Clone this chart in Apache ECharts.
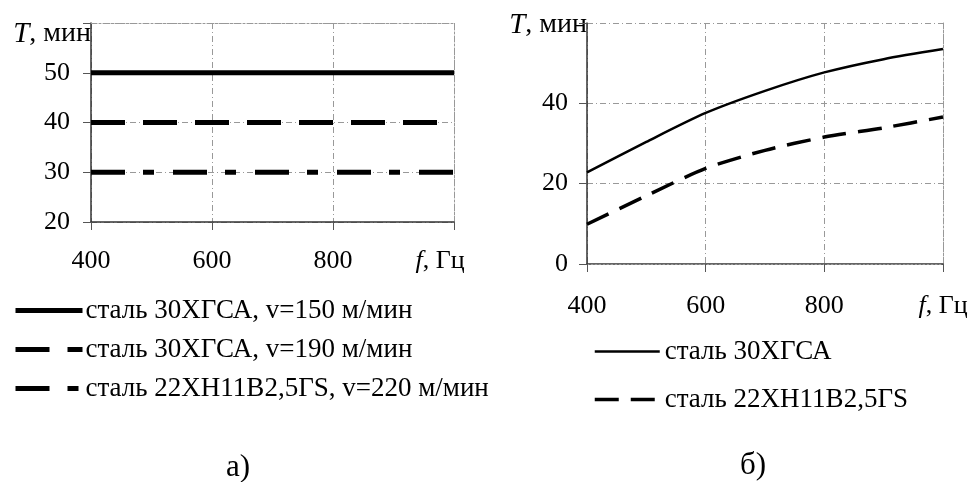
<!DOCTYPE html>
<html>
<head>
<meta charset="utf-8">
<script src="https://cdn.jsdelivr.net/npm/echarts@6/dist/echarts.min.js"></script>
<style>
html,body{margin:0;padding:0;background:#fff;}
#chart{width:975px;height:482px;}
</style>
</head>
<body>
<div id="chart"></div>
<script>
// ---- data (a) ----
var freqA = [400, 600, 800, 1000];
var steel30_v150 = [50, 50, 50, 50];
var steel30_v190 = [40, 40, 40, 40];
var steel22_v220 = [30, 30, 30, 30];
var namesA = ['сталь 30ХГСА, v=150 м/мин', 'сталь 30ХГСА, v=190 м/мин', 'сталь 22ХН11В2,5ГS, v=220 м/мин'];
var yTicksA = [20, 30, 40, 50];

// ---- data (б) ----
var freqB = [400, 500, 600, 700, 800, 900, 1000];
var steel30 = [22.8, 30.4, 37.6, 43.1, 47.7, 51.0, 53.5];
var steel22 = [9.9, 17.0, 23.8, 28.3, 31.6, 33.9, 36.6];
var namesB = ['сталь 30ХГСА', 'сталь 22ХН11В2,5ГS'];
var yTicksB = [0, 20, 40];

var xTicks = [400, 600, 800];
var FONT = 'Liberation Serif';

function pairs(xs, ys) { return xs.map(function (x, i) { return [x, ys[i]]; }); }

var richF = { i: { fontStyle: 'italic', fontFamily: FONT, fontSize: 26, color: '#000' } };
var richN = { i: { fontStyle: 'italic', fontFamily: FONT, fontSize: 29, color: '#000' } };

function xLabelFmt(v) {
  if (xTicks.indexOf(v) >= 0) return String(v);
  if (v === 1000) return '{i|f}, Гц';
  return '';
}

var gridLine = { show: true, lineStyle: { color: '#999', width: 1, type: [6, 3, 1, 3] } };
var borderLine = { show: true, lineStyle: { color: '#999', width: 1, type: [2, 2] } };

var option = {
  backgroundColor: '#fff',
  animation: false,
  textStyle: { fontFamily: FONT, color: '#000' },
  title: [
    { text: 'а)', left: 221, top: 447, textStyle: { fontFamily: FONT, fontSize: 31, fontWeight: 'normal', color: '#000' } },
    { text: 'б)', left: 735, top: 445, textStyle: { fontFamily: FONT, fontSize: 31, fontWeight: 'normal', color: '#000' } }
  ],
  grid: [
    { left: 91, right: 521, top: 23, bottom: 260 },
    { left: 587, right: 32, top: 23, bottom: 218 }
  ],
  xAxis: [
    {
      gridIndex: 0, type: 'value', min: 400, max: 1000, interval: 200,
      axisLine: { show: true, lineStyle: { color: '#333', width: 1.5 } },
      axisTick: { show: true, length: 8, lineStyle: { color: '#555' } },
      splitLine: gridLine,
      axisLabel: {
        margin: 26, fontSize: 26, color: '#000', fontFamily: FONT,
        formatter: function (v) { return v === 1000 ? '{i|f}, Гц{p|}' : xLabelFmt(v); },
        rich: { i: richF.i, p: { width: 28 } }
      }
    },
    {
      gridIndex: 0, type: 'value', min: 400, max: 1000, position: 'top',
      axisLine: borderLine, axisTick: { show: false }, axisLabel: { show: false }, splitLine: { show: false }
    },
    {
      gridIndex: 1, type: 'value', min: 400, max: 1000, interval: 200,
      axisLine: { show: true, lineStyle: { color: '#333', width: 1.5 } },
      axisTick: { show: true, length: 8, lineStyle: { color: '#555' } },
      splitLine: gridLine,
      axisLabel: {
        margin: 29, fontSize: 26, color: '#000', fontFamily: FONT,
        formatter: xLabelFmt, rich: richF
      }
    },
    {
      gridIndex: 1, type: 'value', min: 400, max: 1000, position: 'top',
      axisLine: borderLine, axisTick: { show: false }, axisLabel: { show: false }, splitLine: { show: false }
    }
  ],
  yAxis: [
    {
      gridIndex: 0, type: 'value', min: 20, max: 60, interval: 10,
      name: '{i|T}, мин', nameLocation: 'end', nameGap: -11,
      nameTextStyle: { fontFamily: FONT, fontSize: 28, color: '#000', align: 'right', verticalAlign: 'middle', rich: richN },
      axisLine: { show: true, lineStyle: { color: '#333', width: 1.5 } },
      axisTick: { show: true, length: 8, lineStyle: { color: '#555' } },
      splitLine: gridLine,
      axisLabel: {
        margin: 21, fontSize: 26, color: '#000', fontFamily: FONT,
        formatter: function (v) { return yTicksA.indexOf(v) >= 0 ? String(v) : ''; }
      }
    },
    {
      gridIndex: 0, type: 'value', min: 20, max: 60, position: 'right',
      axisLine: borderLine, axisTick: { show: false }, axisLabel: { show: false }, splitLine: { show: false }
    },
    {
      gridIndex: 1, type: 'value', min: 0, max: 60, interval: 20,
      name: '{i|T}, мин', nameLocation: 'end', nameGap: -2,
      nameTextStyle: { fontFamily: FONT, fontSize: 28, color: '#000', align: 'right', verticalAlign: 'middle', rich: richN },
      axisLine: { show: true, lineStyle: { color: '#333', width: 1.5 } },
      axisTick: { show: true, length: 8, lineStyle: { color: '#555' } },
      splitLine: gridLine,
      axisLabel: {
        margin: 19, fontSize: 26, color: '#000', fontFamily: FONT,
        formatter: function (v) { return yTicksB.indexOf(v) >= 0 ? String(v) : ''; }
      }
    },
    {
      gridIndex: 1, type: 'value', min: 0, max: 60, position: 'right',
      axisLine: borderLine, axisTick: { show: false }, axisLabel: { show: false }, splitLine: { show: false }
    }
  ],
  legend: [
    {
      orient: 'vertical', left: 13, top: 297, padding: 0, itemGap: 12,
      itemWidth: 67, itemHeight: 10,
      textStyle: { fontFamily: FONT, fontSize: 27, color: '#000', padding: [0, 0, 0, -2] },
      itemStyle: { opacity: 0 },
      lineStyle: { width: 'inherit' },
      data: namesA
    },
    {
      orient: 'vertical', left: 593, top: 338, padding: 0, itemGap: 21,
      itemWidth: 65, itemHeight: 10,
      textStyle: { fontFamily: FONT, fontSize: 27, color: '#000' },
      itemStyle: { opacity: 0 },
      lineStyle: { width: 'inherit' },
      data: namesB
    }
  ],
  series: [
    { name: namesA[0], type: 'line', xAxisIndex: 0, yAxisIndex: 0, symbol: 'none', data: pairs(freqA, steel30_v150),
      lineStyle: { color: '#000', width: 5, type: 'solid' } },
    { name: namesA[1], type: 'line', xAxisIndex: 0, yAxisIndex: 0, symbol: 'none', data: pairs(freqA, steel30_v190),
      lineStyle: { color: '#000', width: 5, type: [34, 18] } },
    { name: namesA[2], type: 'line', xAxisIndex: 0, yAxisIndex: 0, symbol: 'none', data: pairs(freqA, steel22_v220),
      lineStyle: { color: '#000', width: 5, type: [34, 18, 11, 19] } },
    { name: namesB[0], type: 'line', xAxisIndex: 2, yAxisIndex: 2, symbol: 'none', smooth: 0.25, data: pairs(freqB, steel30),
      lineStyle: { color: '#000', width: 2.5, type: 'solid' } },
    { name: namesB[1], type: 'line', xAxisIndex: 2, yAxisIndex: 2, symbol: 'none', smooth: 0.25, data: pairs(freqB, steel22),
      lineStyle: { color: '#000', width: 3.5, type: [24, 12] } }
  ]
};

var chart = echarts.init(document.getElementById('chart'), null, { renderer: 'canvas' });
chart.setOption(option);
</script>
</body>
</html>
